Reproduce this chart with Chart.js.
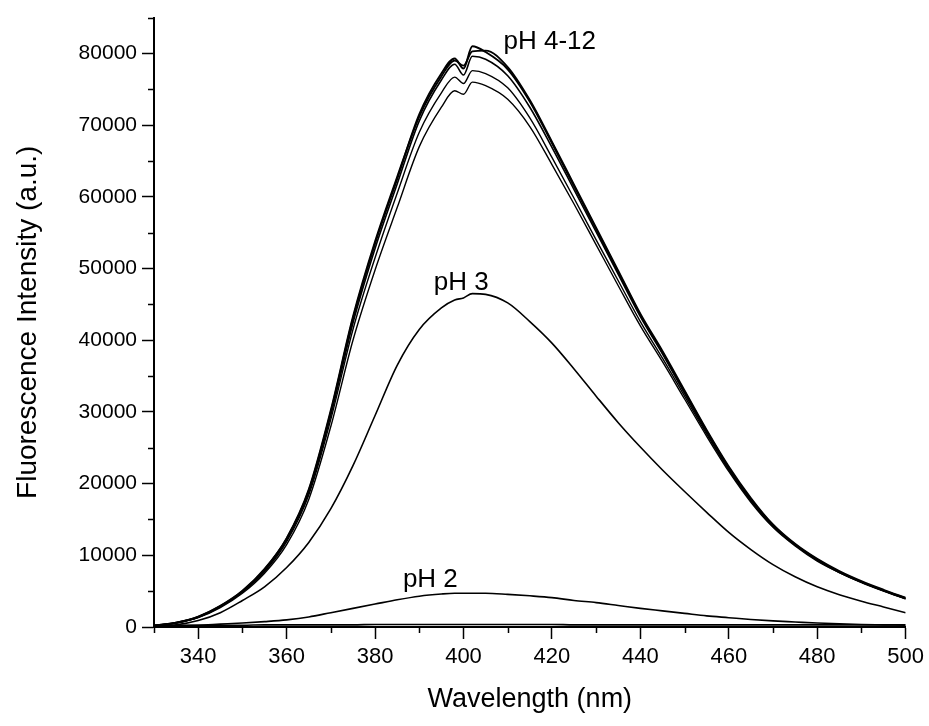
<!DOCTYPE html>
<html lang="en">
<head>
<meta charset="UTF-8">
<title>Fluorescence Intensity vs Wavelength</title>
<script src="https://cdn.jsdelivr.net/npm/chart.js"></script>
<style>
  body { margin: 0; background: #fff; }
</style>
</head>
<body>
<canvas id="chart" width="929" height="726"></canvas>
<script>
// wavelength grid (nm)
const wavelengths = [330, 335, 340, 345, 350, 355, 360, 365, 370, 375, 380, 385, 390, 395, 398, 400, 402, 405,
  410, 415, 420, 425, 430, 435, 440, 445, 450, 455, 460, 465, 470, 475, 480, 485, 490, 495, 500];

// pH 4-12 bundle (top to bottom)
const ph412a = [200, 600, 1400, 2900, 5000, 8000, 12300, 19000, 30000, 43000, 53500, 62500, 71500, 77200, 79300, 77900, 81000, 80200,
  77800, 73300, 67500, 61500, 55500, 49500, 43500, 38300, 32800, 27300, 22200, 17800, 14200, 11500, 9400, 7700, 6300, 5100, 4000];
const ph412b = [200, 600, 1450, 2950, 5050, 8100, 12400, 19200, 30300, 43300, 53800, 62800, 71200, 76800, 79000, 78300, 80300, 80400,
  78100, 73500, 67700, 61700, 55700, 49700, 43700, 38500, 33000, 27500, 22400, 18000, 14300, 11600, 9500, 7800, 6400, 5200, 4100];
const ph412c = [200, 600, 1400, 2850, 4950, 7900, 12200, 18800, 29600, 42400, 52800, 61800, 70600, 76300, 78500, 77000, 79600, 79200,
  76900, 72500, 66900, 61000, 55100, 49200, 43300, 38100, 32600, 27200, 22100, 17700, 14100, 11450, 9350, 7650, 6280, 5080, 3980];
const ph412d = [200, 580, 1350, 2800, 4850, 7700, 11900, 18400, 29000, 41500, 51500, 60500, 69000, 74500, 76700, 75800, 77600, 77200,
  75200, 71000, 65500, 59800, 54000, 48300, 42600, 37500, 32200, 26900, 21900, 17600, 14000, 11400, 9300, 7600, 6250, 5050, 3950];
const ph412e = [200, 550, 1300, 2700, 4700, 7500, 11500, 17800, 28000, 40000, 49800, 58500, 67000, 72500, 74800, 74300, 76000, 75500,
  73600, 69800, 64500, 59000, 53300, 47600, 42000, 37000, 31800, 26600, 21700, 17400, 13900, 11300, 9200, 7600, 6200, 5000, 3900];

const ph3 = [100, 300, 900, 2000, 3700, 5600, 8300, 11800, 16500, 22500, 29500, 36500, 41500, 44500, 45600, 45900, 46500, 46400,
  45200, 42600, 39600, 36000, 32200, 28500, 25100, 21900, 18900, 16000, 13200, 10800, 8700, 7000, 5600, 4500, 3600, 2800, 2000];

const ph2 = [100, 150, 250, 400, 550, 750, 1000, 1400, 2000, 2600, 3200, 3800, 4300, 4600, 4700, 4700, 4700, 4700,
  4550, 4350, 4100, 3700, 3400, 3000, 2600, 2250, 1900, 1550, 1300, 1050, 850, 700, 550, 450, 350, 300, 250];

// trace lying on the baseline
const phLow = [150, 200, 250, 250, 250, 300, 300, 300, 300, 300, 350, 350, 350, 350, 350, 350, 350, 350,
  350, 350, 350, 300, 300, 300, 300, 300, 300, 300, 300, 300, 300, 300, 300, 300, 300, 300, 300];

// curve labels
const labelTexts = ['pH 4-12', 'pH 3', 'pH 2'];
const labelX = [419.5, 399.5, 392.5];
const labelY = [81600, 48000, 6600];

// axes and tick labels
const xMin = 330, xMax = 500, xMinor = 10;
const yMin = 0, yMax = 85000, yMinor = 5000;
const xTickValues = [340, 360, 380, 400, 420, 440, 460, 480, 500];
const yTickValues = [0, 10000, 20000, 30000, 40000, 50000, 60000, 70000, 80000];

const FONT = "'Liberation Sans', Arial, Helvetica, sans-serif";

const toPoints = ys => wavelengths.map((x, i) => ({ x: x, y: ys[i] }));

function line(ys, width) {
  return {
    data: toPoints(ys),
    borderColor: '#000',
    borderWidth: width,
    pointRadius: 0,
    cubicInterpolationMode: 'monotone',
    fill: false
  };
}

const minorTicks = {
  id: 'minorTicks',
  afterDraw(chart) {
    const { ctx, scales: { x, y } } = chart;
    ctx.save();
    ctx.strokeStyle = '#000';
    ctx.lineWidth = 1.5;
    ctx.beginPath();
    for (let v = xMin; v <= xMax; v += xMinor) {
      if (xTickValues.includes(v)) continue;
      const px = Math.round(x.getPixelForValue(v)) + 0.5;
      ctx.moveTo(px, y.bottom);
      ctx.lineTo(px, y.bottom + 6);
    }
    for (let v = yMin + yMinor; v <= yMax; v += yMinor) {
      if (yTickValues.includes(v)) continue;
      const py = Math.round(y.getPixelForValue(v)) + 0.5;
      ctx.moveTo(x.left, py);
      ctx.lineTo(x.left - 6, py);
    }
    ctx.stroke();
    ctx.restore();
  }
};

const curveLabels = {
  id: 'curveLabels',
  afterDatasetsDraw(chart) {
    const { ctx, scales: { x, y } } = chart;
    ctx.save();
    ctx.fillStyle = '#000';
    ctx.font = '26px ' + FONT;
    ctx.textAlign = 'center';
    ctx.textBaseline = 'middle';
    labelTexts.forEach((t, i) => {
      ctx.fillText(t, x.getPixelForValue(labelX[i]), y.getPixelForValue(labelY[i]));
    });
    ctx.restore();
  }
};

new Chart(document.getElementById('chart'), {
  type: 'line',
  data: {
    datasets: [
      line(ph412e, 1.4),
      line(ph412d, 1.4),
      line(ph412c, 1.6),
      line(ph412b, 1.8),
      line(ph412a, 2),
      line(ph3, 1.6),
      line(ph2, 1.6),
      line(phLow, 1.6)
    ]
  },
  options: {
    responsive: false,
    animation: false,
    layout: { padding: { top: 14, right: 22, bottom: 0, left: 0 } },
    plugins: {
      legend: { display: false },
      tooltip: { enabled: false }
    },
    scales: {
      x: {
        type: 'linear',
        min: xMin,
        max: xMax,
        afterBuildTicks: s => { s.ticks = xTickValues.map(v => ({ value: v })); },
        afterFit: s => { s.height = 99; },
        ticks: {
          color: '#000',
          padding: 5,
          maxRotation: 0,
          autoSkip: false,
          callback: v => String(v),
          font: { family: FONT, size: 22 }
        },
        grid: {
          drawOnChartArea: false,
          tickLength: 12,
          tickColor: '#000',
          tickWidth: 1.5
        },
        border: { color: '#000', width: 2 },
        title: {
          display: true,
          text: 'Wavelength (nm)',
          color: '#000',
          padding: { top: 0, bottom: 10 },
          font: { family: FONT, size: 27 }
        }
      },
      y: {
        type: 'linear',
        min: yMin,
        max: yMax,
        afterBuildTicks: s => { s.ticks = yTickValues.map(v => ({ value: v })); },
        afterFit: s => { s.width = 154; },
        ticks: {
          color: '#000',
          padding: 5,
          autoSkip: false,
          callback: v => String(v),
          font: { family: FONT, size: 21 }
        },
        grid: {
          drawOnChartArea: false,
          tickLength: 12,
          tickColor: '#000',
          tickWidth: 1.5
        },
        border: { color: '#000', width: 2 },
        title: {
          display: true,
          text: 'Fluorescence Intensity (a.u.)',
          color: '#000',
          padding: { top: 11, bottom: 0 },
          font: { family: FONT, size: 28 }
        }
      }
    }
  },
  plugins: [minorTicks, curveLabels]
});
</script>
</body>
</html>
